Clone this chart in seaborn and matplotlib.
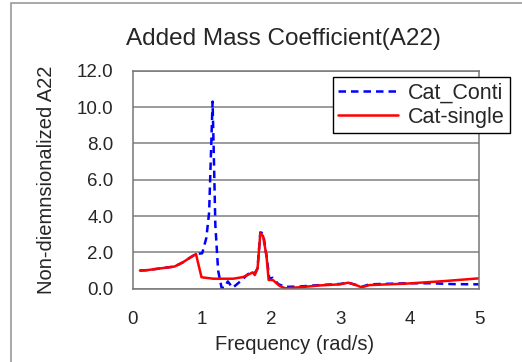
import pandas as pd
import matplotlib
matplotlib.use("Agg")
import matplotlib.pyplot as plt
from matplotlib.patches import Rectangle
import seaborn as sns

# data
conti_freq = [0.10, 0.20, 0.40, 0.60, 0.72, 0.82, 0.91, 1.00, 1.06, 1.10, 1.15,
              1.17, 1.19, 1.23, 1.28, 1.32, 1.37, 1.44, 1.55, 1.66, 1.71, 1.76,
              1.80, 1.84, 1.88, 1.93, 1.97, 2.02, 2.10, 2.20, 2.41, 2.70, 2.99,
              3.11, 3.21, 3.30, 3.42, 3.95, 4.30, 4.65, 5.00]
conti_a22 = [1.00, 1.02, 1.12, 1.22, 1.45, 1.70, 1.91, 1.95, 2.80, 4.20, 10.30,
             7.00, 3.50, 1.00, 0.05, 0.05, 0.40, 0.05, 0.40, 0.80, 0.88, 0.85,
             1.12, 3.10, 3.05, 1.80, 0.55, 0.60, 0.25, 0.10, 0.12, 0.20, 0.26,
             0.33, 0.22, 0.10, 0.24, 0.30, 0.30, 0.25, 0.24]

single_freq = [0.10, 0.20, 0.40, 0.60, 0.72, 0.82, 0.91, 0.99, 1.16, 1.45, 1.59,
               1.69, 1.73, 1.76, 1.80, 1.84, 1.88, 1.93, 1.96, 2.02, 2.12, 2.20,
               2.41, 2.70, 2.99, 3.11, 3.21, 3.30, 3.42, 3.95, 4.50, 5.00]
single_a22 = [1.00, 1.02, 1.12, 1.22, 1.45, 1.70, 1.91, 0.63, 0.55, 0.55, 0.64,
              0.82, 0.90, 0.75, 1.12, 3.05, 2.90, 1.76, 0.48, 0.48, 0.15, 0.02,
              0.08, 0.18, 0.24, 0.33, 0.22, 0.08, 0.20, 0.28, 0.42, 0.57]

yticks = [0, 2, 4, 6, 8, 10, 12]
xticks = [0, 1, 2, 3, 4, 5]

conti = pd.DataFrame({"freq": conti_freq, "a22": conti_a22})
single = pd.DataFrame({"freq": single_freq, "a22": single_a22})

sns.set_style("white")
plt.rcParams["font.family"] = ["Liberation Sans", "DejaVu Sans"]

fig = plt.figure(figsize=(5.22, 3.62), dpi=100)
ax = fig.add_axes([133 / 522, 1 - 288.7 / 362, 346 / 522, 218 / 362])

# outer frame of the chart area
fig.patches.append(Rectangle((11 / 522, -0.05), 1.1, 1 - 3 / 362 + 0.05,
                             transform=fig.transFigure, fill=False,
                             edgecolor="#9a9a9a", linewidth=1.2))

sns.lineplot(data=conti, x="freq", y="a22", ax=ax, sort=False, color="#0000ff",
             linewidth=1.8, label="Cat_Conti")
ax.lines[-1].set_dashes([3, 2])
sns.lineplot(data=single, x="freq", y="a22", ax=ax, sort=False, color="#ff0000",
             linewidth=1.8, label="Cat-single")

ax.set_xlim(0, 5)
ax.set_ylim(0, 12)
ax.set_xticks(xticks)
ax.set_yticks(yticks)
ax.set_yticklabels([f"{v:.1f}" for v in yticks])
ax.yaxis.grid(True, color="#808080", linewidth=1.1)
ax.set_axisbelow(True)
ax.tick_params(axis="both", direction="in", length=4, width=1, color="#555555",
               labelsize=13.5, pad=14)
ax.tick_params(axis="x", pad=16)
for s in ax.spines.values():
    s.set_color("#777777")
    s.set_linewidth(1.1)

ax.set_xlabel("Frequency (rad/s)", fontsize=14.5, labelpad=5)
ax.xaxis.label.set_x(0.468)
ax.set_ylabel("Non-diemnsionalized A22", fontsize=14.5, labelpad=15)
fig.text(283 / 522, 1 - 39 / 362, "Added Mass Coefficient(A22)", fontsize=17.5,
         ha="center", va="center")

leg = ax.legend(loc="upper right", bbox_to_anchor=(510 / 522, 1 - 77 / 362),
                bbox_transform=fig.transFigure, fontsize=15.5, frameon=True,
                fancybox=False, edgecolor="black", framealpha=1,
                handlelength=2.8, handletextpad=0.45, labelspacing=0.15,
                borderpad=0.25, borderaxespad=0)
leg.get_frame().set_linewidth(1.0)

fig.savefig("out.png", dpi=100)
